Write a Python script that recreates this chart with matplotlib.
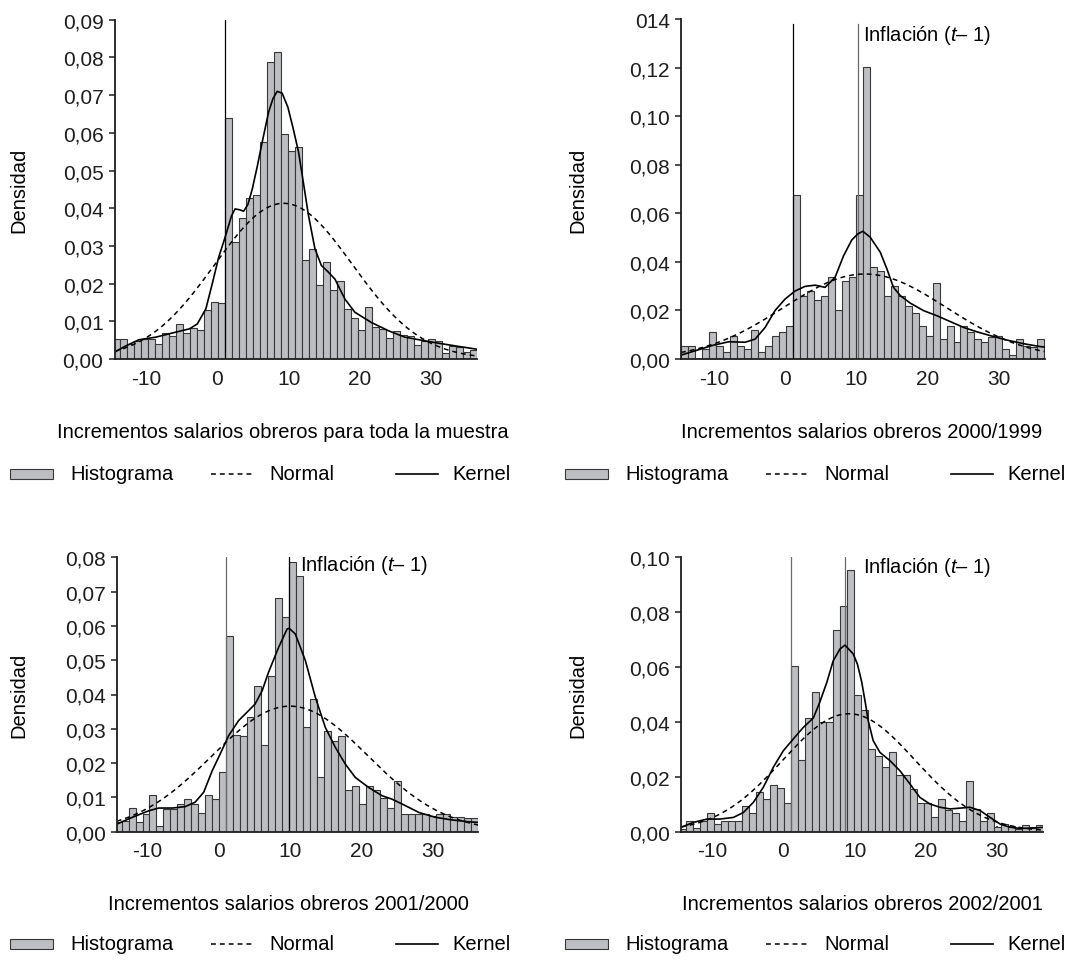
import numpy as np
import matplotlib
matplotlib.use("Agg")
import matplotlib.pyplot as plt
from matplotlib.patches import Rectangle
from matplotlib.lines import Line2D

FONT = ['Liberation Sans', 'DejaVu Sans']
plt.rcParams['font.family'] = FONT
plt.rcParams['mathtext.fontset'] = 'custom'
plt.rcParams['mathtext.it'] = 'Liberation Sans:italic'
plt.rcParams['mathtext.rm'] = 'Liberation Sans'

# ---------------- data ----------------
bin_start = -14.6
bin_width = 0.98

hist_total = [.0052, .0052, .0040, .0047, .0053, .0052, .0039, .0069, .0060, .0093,
              .0069, .0082, .0076, .0130, .0152, .0149, .0640, .0310, .0374, .0426,
              .0435, .0576, .0789, .0813, .0596, .0553, .0562, .0263, .0292, .0196,
              .0258, .0183, .0207, .0133, .0108, .0078, .0139, .0084, .0080, .0056,
              .0073, .0064, .0062, .0037, .0049, .0053, .0049, .0015, .0034, .0031,
              .0018, .0025]
hist_2000 = [.0055, .0055, .0000, .0041, .0110, .0055, .0027, .0093, .0055, .0041,
             .0121, .0027, .0055, .0093, .0110, .0134, .0675, .0258, .0281, .0244,
             .0258, .0339, .0202, .0322, .0339, .0675, .1203, .0380, .0364, .0258,
             .0299, .0258, .0217, .0189, .0134, .0093, .0313, .0082, .0134, .0069,
             .0134, .0110, .0082, .0069, .0089, .0096, .0041, .0016, .0082, .0055,
             .0048, .0082]
hist_2001 = [.0028, .0032, .0068, .0027, .0052, .0107, .0016, .0066, .0066, .0081,
             .0095, .0081, .0054, .0107, .0095, .0175, .0572, .0282, .0280, .0333,
             .0426, .0254, .0453, .0680, .0625, .0785, .0746, .0306, .0387, .0160,
             .0293, .0265, .0280, .0121, .0134, .0081, .0134, .0122, .0098, .0068,
             .0147, .0053, .0053, .0053, .0052, .0047, .0053, .0053, .0042, .0044,
             .0040, .0040]
hist_2002 = [.0010, .0040, .0015, .0040, .0067, .0028, .0040, .0040, .0040, .0092,
             .0067, .0143, .0119, .0171, .0158, .0104, .0603, .0262, .0414, .0510,
             .0400, .0400, .0735, .0824, .0955, .0498, .0443, .0301, .0275, .0235,
             .0289, .0208, .0208, .0156, .0103, .0103, .0052, .0119, .0079, .0067,
             .0040, .0183, .0083, .0040, .0067, .0016, .0028, .0022, .0010, .0026,
             .0016, .0024]

kern_total_x = [-14.4, -12.9, -11, -8.6, -6.3, -3.9, -2.8, -1.6, -0.7, 0.2, 1.1, 2.0, 2.5,
                3.1, 3.7, 4.3, 4.9, 5.6, 6.3, 7.2, 7.8, 8.4, 9.1, 9.9, 10.6, 11.4, 12.1,
                12.8, 13.7, 14.6, 15.5, 16.5, 17.9, 19.3, 21.6, 24, 26.3, 28.6, 31, 33.3, 36.4]
kern_total_y = [.0018, .0034, .0051, .0058, .0069, .0080, .0093, .0133, .0200, .0270, .0323,
                .0380, .0398, .0396, .0392, .0410, .0450, .0510, .0575, .0655, .0690, .0710,
                .0705, .0668, .0615, .0549, .0465, .0380, .0292, .0248, .0232, .0212, .0159,
                .0124, .0097, .0075, .0058, .0050, .0042, .0035, .0026]

kern_2000_x = [-14.6, -12.6, -10.3, -7.9, -5.6, -4.2, -2.8, -1.4, 0.0, 1.4, 2.8, 4.2, 5.6,
               7.0, 8.2, 9.35, 10.2, 10.9, 11.95, 13.36, 14.29, 15.2, 16.16, 17.56, 19.43,
               21.3, 23.17, 25.04, 26.9, 28.8, 31.1, 33.45, 35.8, 36.4]
kern_2000_y = [.0016, .0034, .0055, .0071, .0069, .0082, .0130, .0200, .0247, .0280, .0299,
               .0304, .0295, .0336, .0425, .0490, .0515, .0526, .0501, .0439, .0370, .0295,
               .0261, .0230, .0199, .0178, .0154, .0130, .0112, .0096, .0078, .0063, .0051,
               .0049]

kern_2001_x = [-14.3, -12.1, -9.8, -8.4, -6.5, -4.7, -3.3, -2.1, -0.9, 0.2, 1.4, 2.8, 4.2,
               5.1, 6.1, 7.0, 8.4, 9.6, 9.9, 10.76, 12.16, 13.56, 14.96, 16.36, 17.77, 19.17,
               21.04, 22.9, 24.3, 25.7, 28.1, 30.4, 32.8, 35.1, 36.4]
kern_2001_y = [.0022, .0042, .0061, .0069, .0069, .0073, .0086, .0115, .0178, .0226, .0280,
               .0324, .0353, .0372, .0411, .0465, .0537, .0591, .0593, .0576, .0499, .0392,
               .0304, .0246, .0197, .0158, .0129, .0105, .0095, .0081, .0056, .0042, .0034,
               .0029, .0027]

kern_2002_x = [-14.35, -12.6, -10.7, -8.9, -7.0, -5.6, -4.2, -2.8, -1.4, 0.0, 1.4, 2.8, 4.2,
               5.1, 6.1, 7.0, 7.95, 8.65, 9.8, 10.4, 11.0, 11.5, 11.9, 12.6, 13.55, 14.95,
               16.36, 17.76, 19.16, 20.56, 21.97, 23.4, 24.8, 26.2, 27.6, 29.0, 30.4, 31.8,
               33.2, 35.05, 36.4]
kern_2002_y = [.0016, .0034, .0046, .0046, .0052, .0070, .0107, .0162, .0235, .0295, .0338,
               .0380, .0414, .0471, .0544, .0623, .0666, .0680, .0648, .0610, .0545, .0470,
               .0405, .0332, .0289, .0259, .0222, .0174, .0125, .0101, .0089, .0083, .0086,
               .0089, .0077, .0052, .0028, .0016, .0012, .0013, .0016]

normal_mean = [9.3, 11.2, 10.0, 9.2]
normal_sd = [9.66, 11.4, 10.9, 9.28]

ref_line = 1.08
inflation_prev = [None, 10.29, 9.82, 8.65]

x_ticks = [-10, 0, 10, 20, 30]
x_ticklabels = ['-10', '0', '10', '20', '30']
y_ticks = [[0, .01, .02, .03, .04, .05, .06, .07, .08, .09],
           [0, .02, .04, .06, .08, .10, .12, .14],
           [0, .01, .02, .03, .04, .05, .06, .07, .08],
           [0, .02, .04, .06, .08, .10]]
y_ticklabels = [['0,00', '0,01', '0,02', '0,03', '0,04', '0,05', '0,06', '0,07', '0,08', '0,09'],
                ['0,00', '0,02', '0,04', '0,06', '0,08', '0,10', '0,12', '014'],
                ['0,00', '0,01', '0,02', '0,03', '0,04', '0,05', '0,06', '0,07', '0,08'],
                ['0,00', '0,02', '0,04', '0,06', '0,08', '0,10']]
titles = ['Incrementos salarios obreros para toda la muestra',
          'Incrementos salarios obreros 2000/1999',
          'Incrementos salarios obreros 2001/2000',
          'Incrementos salarios obreros 2002/2001']
y_label = 'Densidad'
infl_label = 'Inflación ($t$– 1)'
legend_labels = ['Histograma', 'Normal', 'Kernel']

hists = [hist_total, hist_2000, hist_2001, hist_2002]
kerns = [(kern_total_x, kern_total_y), (kern_2000_x, kern_2000_y),
         (kern_2001_x, kern_2001_y), (kern_2002_x, kern_2002_y)]

# ---------------- layout (pixels) ----------------
W, H = 1071, 962
FS = 14.5
FS_TICK = 15
PXU = 7.13  # pixels per data unit
xlims = [(-14.4, 36.4), (-14.6, 36.4), (-14.3, 36.4), (-14.35, 36.4)]
ax_left_px = [114.6, 681, 116.7, 681]
ax_top_px = [20.7, 20, 558.3, 558.3]
ax_bot_px = [360, 360, 832.7, 832.7]
ref_line_color = ['black', 'black', '#6a6a6a', '#6a6a6a']
infl_color = [None, '#6a6a6a', 'black', '#6a6a6a']
line_top = [1.0, 0.985, 1.0, 1.0]
infl_text_x = [None, 10.95, 11.4, 11.2]
infl_text_y = [None, 0.953, 0.972, 0.965]
title_pos = [(283, 433), (862, 433), (288, 905), (862, 905)]
ylabel_pos = [(19, 190), (578, 190), (19, 695), (578, 695)]
legend_rows = [(475, 0), (475, 555), (945, 0), (945, 555)]

BAR_FACE = '#bdbec1'
BAR_EDGE = '#383838'

fig = plt.figure(figsize=(W / 100, H / 100), dpi=100)

for i in range(4):
    x0, x1 = xlims[i]
    wpx = (x1 - x0) * PXU
    hpx = ax_bot_px[i] - ax_top_px[i]
    ax = fig.add_axes([ax_left_px[i] / W, 1 - ax_bot_px[i] / H, wpx / W, hpx / H])
    heights = np.array(hists[i])
    edges = bin_start + bin_width * np.arange(len(heights))
    ax.bar(edges, heights, width=bin_width, align='edge', color=BAR_FACE,
           edgecolor=BAR_EDGE, linewidth=0.8, zorder=2)
    xs = np.linspace(x0, x1, 400)
    m, s = normal_mean[i], normal_sd[i]
    ax.plot(xs, np.exp(-(xs - m) ** 2 / (2 * s * s)) / (s * np.sqrt(2 * np.pi)),
            color='black', lw=1.1, linestyle=(0, (3.2, 2.6)), zorder=4)
    kx, ky = kerns[i]
    ax.plot(kx, ky, color='black', lw=1.2, zorder=5, solid_capstyle='round')
    ax.axvline(ref_line, ymin=0, ymax=line_top[i], color=ref_line_color[i], lw=0.9, zorder=3)
    if inflation_prev[i] is not None:
        ax.axvline(inflation_prev[i], ymin=0, ymax=line_top[i], color=infl_color[i], lw=0.9, zorder=3)
        ax.text(infl_text_x[i], infl_text_y[i], infl_label, transform=ax.get_xaxis_transform(),
                ha='left', va='center', fontsize=FS)
    ax.set_xlim(x0, x1)
    ax.set_ylim(0, y_ticks[i][-1])
    ax.set_xticks(x_ticks)
    ax.set_xticklabels(x_ticklabels)
    ax.set_yticks(y_ticks[i])
    ax.set_yticklabels(y_ticklabels[i])
    for sp in ['top', 'right']:
        ax.spines[sp].set_visible(False)
    for sp in ['left', 'bottom']:
        ax.spines[sp].set_linewidth(1.3)
        ax.spines[sp].set_color('#1e1e1e')
        ax.spines[sp].set_zorder(6)
    ax.tick_params(axis='y', direction='out', length=4, width=1.1, pad=4, labelsize=FS_TICK, colors='#1e1e1e')
    ax.tick_params(axis='x', direction='in', length=4, width=1.1, pad=7, labelsize=FS_TICK, colors='#1e1e1e')
    ax.set_facecolor('none')

    tx, ty = title_pos[i]
    fig.text(tx / W, 1 - ty / H, titles[i], ha='center', va='center', fontsize=FS)
    lx, ly = ylabel_pos[i]
    fig.text(lx / W, 1 - ly / H, y_label, ha='center', va='center', rotation=90, fontsize=FS)

    yrow, off = legend_rows[i]
    yf = 1 - yrow / H
    fig.patches.append(Rectangle(((10 + off) / W, 1 - (yrow + 5) / H), 43 / W, 10 / H,
                                 transform=fig.transFigure, facecolor=BAR_FACE,
                                 edgecolor=BAR_EDGE, linewidth=0.8))
    fig.text((70 + off) / W, yf, legend_labels[0], ha='left', va='center', fontsize=FS)
    fig.lines.append(Line2D([(211 + off) / W, (255 + off) / W], [yf, yf], transform=fig.transFigure,
                            color='black', lw=1.1, linestyle=(0, (3.2, 2.6))))
    fig.text((269 + off) / W, yf, legend_labels[1], ha='left', va='center', fontsize=FS)
    fig.lines.append(Line2D([(396 + off) / W, (438 + off) / W], [yf, yf], transform=fig.transFigure,
                            color='black', lw=1.2))
    fig.text((452 + off) / W, yf, legend_labels[2], ha='left', va='center', fontsize=FS)

fig.savefig('out.png', dpi=100, facecolor='white')
